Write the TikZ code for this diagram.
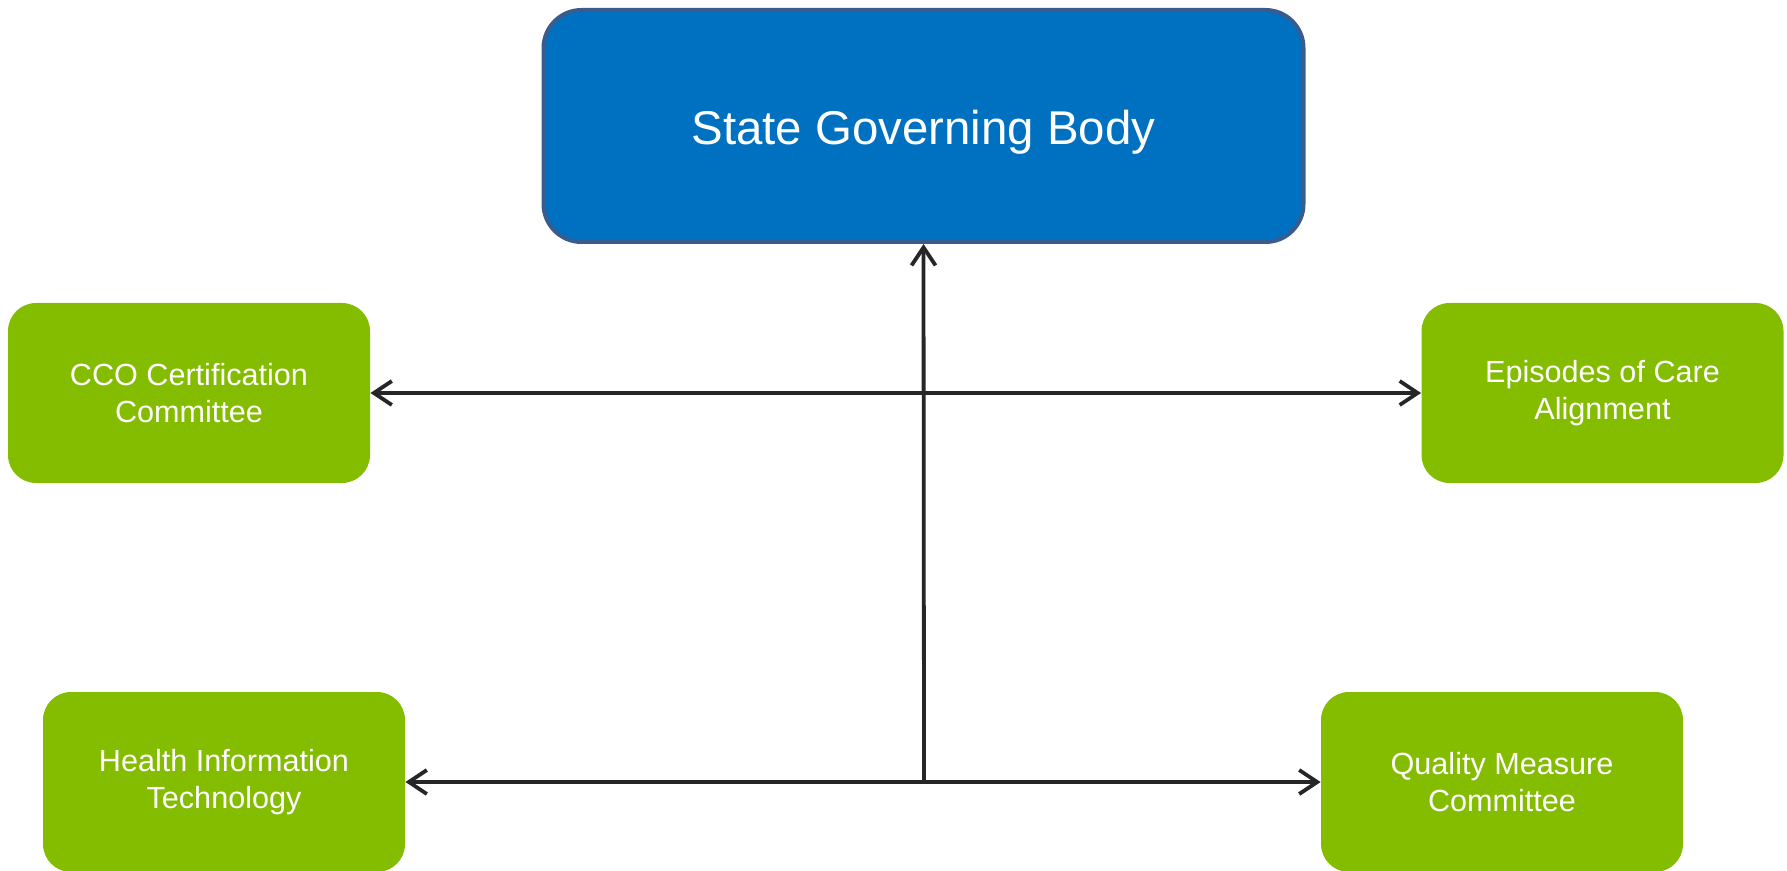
\documentclass[tikz,border=0pt]{standalone}
\usepackage{fontspec}
\setmainfont{Liberation Sans}
\usetikzlibrary{arrows.meta}
\definecolor{sgblue}{HTML}{0070C0}
\definecolor{sgborder}{HTML}{3A5C8C}
\definecolor{sggreen}{HTML}{84BC00}
\definecolor{sgline}{HTML}{262626}
\tikzset{
  govbox/.style={rectangle, rounded corners=19pt, fill=sgblue, draw=sgborder, line width=2pt,
    minimum width=380pt, minimum height=116pt, inner sep=0pt, text=white,
    font=\fontsize{23.7}{28}\selectfont},
  subbox/.style={rectangle, rounded corners=14pt, fill=sggreen, draw=none,
    minimum width=181pt, minimum height=90pt, inner sep=0pt, text=white, align=center,
    font=\fontsize{15.3}{18.5}\selectfont},
  conn/.style={draw=sgline, line width=1.9pt},
  tip/.style={-{Straight Barb[length=9pt,width=12pt,line width=1.9pt]}},
  bitip/.style={{Straight Barb[length=9pt,width=12pt,line width=1.9pt]}-{Straight Barb[length=9pt,width=12pt,line width=1.9pt]}}
}
\begin{document}
\begin{tikzpicture}[x=0.5pt,y=-0.5pt]
\useasboundingbox (0,0) rectangle (1787,871);
\node[govbox] (gov) at (923.5,126) {};
\node[text=white, font=\fontsize{23.7}{28}\selectfont, inner sep=0pt] (govtext) at (923.5,132) {State Governing Body};
\node[subbox] (cco) at (189,393) {CCO Certification\\Committee};
\node[subbox] (eoc) at (1602.5,393) {Episodes of Care\\Alignment};
\node[subbox] (hit) at (224,782) {Health Information\\Technology};
\node[subbox] (qmc) at (1502,782) {Quality Measure\\Committee};
\coordinate (hub) at (924,782);
\draw[conn,bitip] (cco.east) -- (eoc.west);
\draw[conn,bitip] (hit.east) -- (qmc.west);
\draw[conn,tip] (hub) -- (gov.south);
\end{tikzpicture}
\end{document}
